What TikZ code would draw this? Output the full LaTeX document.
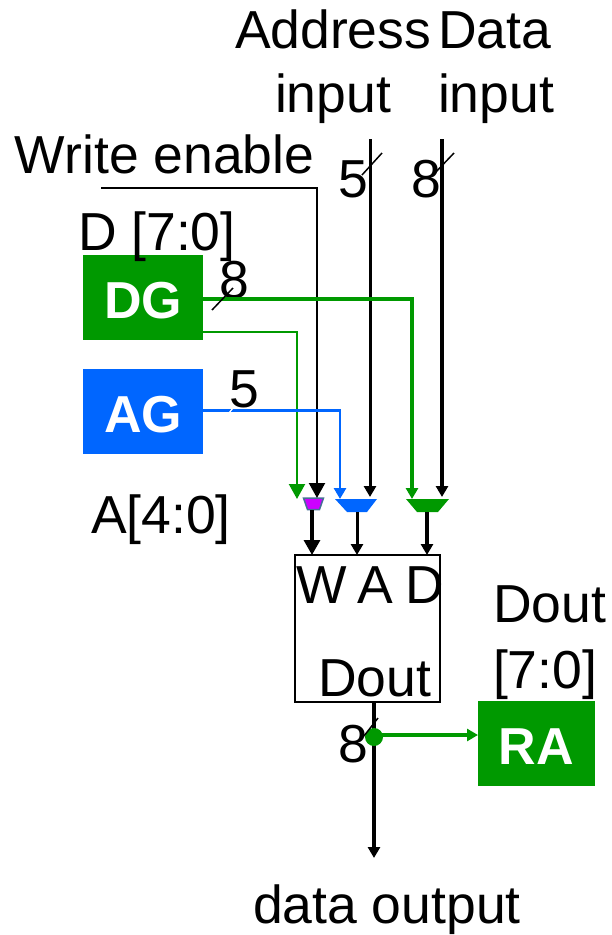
\documentclass[tikz,border=0pt]{standalone}
\usepackage{fontspec}
\setmainfont{Liberation Sans}
\usetikzlibrary{arrows.meta}
\definecolor{dgreen}{RGB}{0,153,0}
\definecolor{mblue}{RGB}{0,102,255}
\definecolor{mpurple}{RGB}{204,0,255}
\definecolor{medge}{RGB}{70,110,150}
\newcommand{\unittext}[1]{\raisebox{-20.7pt}[0pt][0pt]{#1}}
\tikzset{
  lab/.style={anchor=base west,inner sep=0pt,outer sep=0pt,font=\fontsize{53.5}{53.5}\selectfont,text=black},
  unit/.style={draw=none,inner sep=0pt,outer sep=0pt,text=white,font=\fontsize{52}{52}\selectfont\bfseries,minimum height=85pt},
  tick/.style={draw=black,line width=1.5pt},
  bigtip/.style={-{Triangle[length=15pt,width=16pt]}},
  smalltip/.style={-{Triangle[length=11pt,width=12pt]}},
  busthin/.style={line width=2.2pt},
  bus/.style={line width=4pt}
}
\begin{document}
\begin{tikzpicture}[x=1pt,y=-1pt]
\useasboundingbox (0,0) rectangle (612,935);
% units
\node[unit,fill=dgreen,minimum width=120pt] (dg) at (143,297.5) {\unittext{DG}};
\node[unit,fill=mblue,minimum width=120pt] (ag) at (143,411.5) {\unittext{AG}};
\node[unit,fill=dgreen,minimum width=117pt] (ra) at (536.5,743.5) {\unittext{RA}};
\node[draw=black,line width=1.7pt,minimum width=145pt,minimum height=147pt,inner sep=0pt,outer sep=0pt] (mem) at (367.5,628.5) {};
% muxes
\filldraw[fill=mpurple,draw=medge,line width=1.5pt] (303.5,498) -- (323.5,498) -- (319.5,509.5) -- (307.5,509.5) -- cycle;
\fill[mblue] (335,499) -- (377,499) -- (367,512) -- (347,512) -- cycle;
\fill[dgreen] (406,499) -- (449,499) -- (438,512) -- (417,512) -- cycle;
\coordinate (mw) at (312,510);
\coordinate (ma) at (357,512);
\coordinate (md) at (427,512);
% labels
\node[lab] (t1) at (235,48) {Address};
\node[lab] (t2) at (275,112) {input};
\node[lab] (t3) at (438,48) {Data};
\node[lab] (t4) at (438,112) {input};
\node[lab] (t5) at (15,173) {Write enable};
\node[lab] (t6) at (78,250) {D [7:0]};
\node[lab] (t7) at (91,533) {A[4:0]};
\node[lab] (t8) at (296,603) {W\hspace{-4pt} A\hspace{-2pt} D};
\node[lab] (t9) at (318,696) {Dout};
\node[lab] (t10) at (493,622) {Dout};
\node[lab] (t11) at (493,688) {[7:0]};
\node[lab] (t12) at (253,923) {data output};
\node[lab] (n1) at (338,197) {5};
\node[lab] (n2) at (411,197) {8};
\node[lab] (n3) at (219,298) {8};
\node[lab] (n4) at (229,407) {5};
\node[lab] (n5) at (338,762) {8};
% free ends
\coordinate (we) at (101,188);
\coordinate (addr) at (370,139);
\coordinate (data) at (442,139);
\coordinate (out) at (374,858);
% control lines
\draw[black,busthin,bigtip] (we) -- (317,188) -- (317,498);
\draw[black,line width=3pt,smalltip] (addr) -- (370,497);
\draw[black,bus,smalltip] (data) -- (442,497);
\draw[dgreen,bus,smalltip] (dg.east |- 0,299) -- (412,299) -- (412,499);
\draw[dgreen,busthin,bigtip] (dg.east |- 0,332) -- (297,332) -- (297,499);
\draw[mblue,line width=2.8pt,smalltip] (ag.east |- 0,410.5) -- (340,410.5) -- (340,499);
% mux to memory
\draw[black,line width=3.2pt,bigtip] (mw) -- (mw |- mem.north);
\draw[black,line width=3pt,smalltip] (ma) -- (ma |- mem.north);
\draw[black,line width=3.2pt,smalltip] (md) -- (md |- mem.north);
% output
\draw[black,bus,smalltip] (mem.south -| out) -- (out);
\node[circle,fill=dgreen,minimum size=18pt,inner sep=0pt,outer sep=0pt] (dot) at (374,737) {};
\coordinate (branch) at (380,735);
\draw[dgreen,line width=3.2pt,smalltip] (branch) -- (branch -| ra.west);
% slashes
\draw[tick] (362,175) -- (382,153);
\draw[tick] (433,175) -- (454,153);
\draw[tick] (212,310) -- (233,288);
\draw[white,line width=1.2pt] (229,413) -- (233,408);
\draw[tick] (364,736) -- (378,718);
\end{tikzpicture}
\end{document}
